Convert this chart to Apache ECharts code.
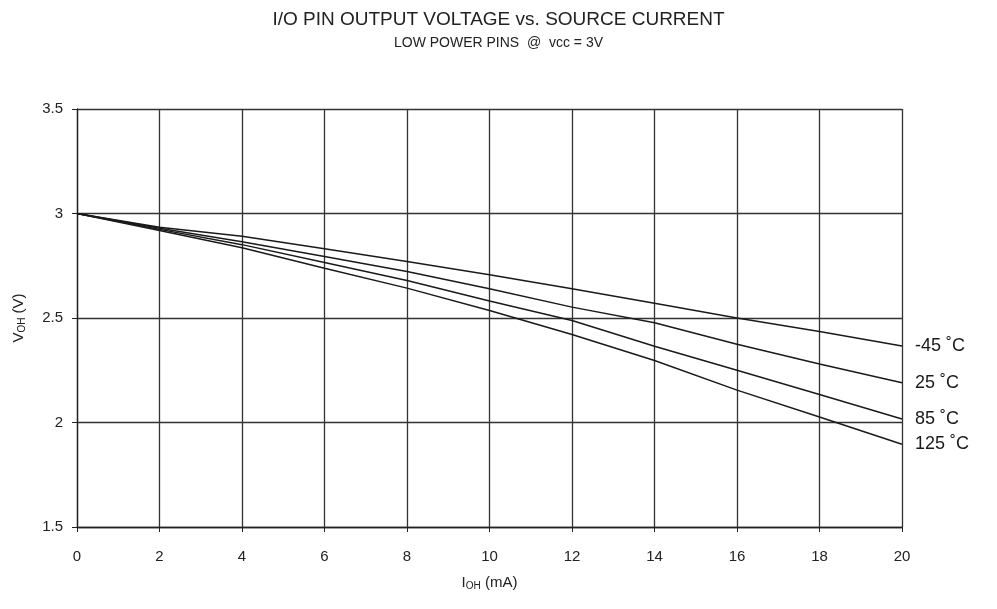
<!DOCTYPE html>
<html>
<head>
<meta charset="utf-8">
<script src="https://cdn.jsdelivr.net/npm/echarts@6/dist/echarts.min.js"></script>
<style>
  html, body { margin: 0; padding: 0; background: #fff; }
  #chart { width: 997px; height: 609px; }
</style>
</head>
<body>
<div id="chart"></div>
<script>
// source current, mA
const currents = [0, 2, 4, 6, 8, 10, 12, 14, 16, 18, 20];
// output voltage per temperature, V
const vMinus45 = [3.0, 2.934, 2.891, 2.831, 2.770, 2.707, 2.640, 2.571, 2.500, 2.435, 2.366];
const v25 = [3.0, 2.929, 2.865, 2.794, 2.722, 2.640, 2.552, 2.477, 2.374, 2.280, 2.190];
const v85 = [3.0, 2.924, 2.851, 2.766, 2.679, 2.581, 2.488, 2.365, 2.250, 2.134, 2.017];
const v125 = [3.0, 2.919, 2.836, 2.738, 2.643, 2.536, 2.421, 2.297, 2.155, 2.026, 1.896];
const seriesNames = ['-45 ˚C', '25 ˚C', '85 ˚C', '125 ˚C'];
const seriesValues = [vMinus45, v25, v85, v125];

const font = '"Liberation Sans", Arial, sans-serif';

const chart = echarts.init(document.getElementById('chart'));

const series = seriesValues.map((vals, i) => ({
  name: seriesNames[i],
  type: 'line',
  data: currents.map((c, j) => [c, vals[j]]),
  showSymbol: false,
  lineStyle: { color: '#1a1a1a', width: 1.5 },
  endLabel: {
    show: true,
    formatter: seriesNames[i],
    color: '#1a1a1a',
    fontFamily: font,
    fontSize: 18,
    distance: 13
  },
  emphasis: { disabled: true },
  silent: true
}));

chart.setOption({
  animation: false,
  backgroundColor: '#fff',
  title: {
    text: 'I/O PIN OUTPUT VOLTAGE vs. SOURCE CURRENT',
    subtext: 'LOW POWER PINS  @  vcc = 3V',
    left: 'center',
    top: 5,
    itemGap: 7,
    textStyle: { fontFamily: font, fontSize: 19, fontWeight: 'normal', color: '#222' },
    subtextStyle: { fontFamily: font, fontSize: 14, color: '#222' }
  },
  grid: { left: 77, right: 95, top: 109, bottom: 82 },
  xAxis: {
    type: 'value',
    min: 0,
    max: 20,
    interval: 2,
    name: '{main|I}{sub|OH}{main| (mA)}',
    nameLocation: 'middle',
    nameGap: 48,
    nameTextStyle: {
      rich: {
        main: { fontFamily: font, fontSize: 15, color: '#222' },
        sub: { fontFamily: font, fontSize: 10, color: '#222', verticalAlign: 'bottom', padding: [6, 0, 0, 0] }
      }
    },
    axisLine: { show: true, lineStyle: { color: '#222', width: 1.3 } },
    axisTick: { show: true, length: 5, lineStyle: { color: '#222' } },
    axisLabel: { fontFamily: font, fontSize: 15, color: '#222', margin: 22 },
    splitLine: { show: true, lineStyle: { color: '#333', width: 1.3 } }
  },
  yAxis: {
    type: 'value',
    min: 1.5,
    max: 3.5,
    interval: 0.5,
    name: '{main|V}{sub|OH}{main| (V)}',
    nameLocation: 'middle',
    nameGap: 50,
    nameRotate: 90,
    nameTextStyle: {
      rich: {
        main: { fontFamily: font, fontSize: 15, color: '#222' },
        sub: { fontFamily: font, fontSize: 10, color: '#222', verticalAlign: 'bottom', padding: [6, 0, 0, 0] }
      }
    },
    axisLine: { show: true, lineStyle: { color: '#222', width: 1.3 } },
    axisTick: { show: true, length: 5, lineStyle: { color: '#222' } },
    axisLabel: { fontFamily: font, fontSize: 15, color: '#222', margin: 14 },
    splitLine: { show: true, lineStyle: { color: '#333', width: 1.3 } }
  },
  series: series
});
</script>
</body>
</html>
